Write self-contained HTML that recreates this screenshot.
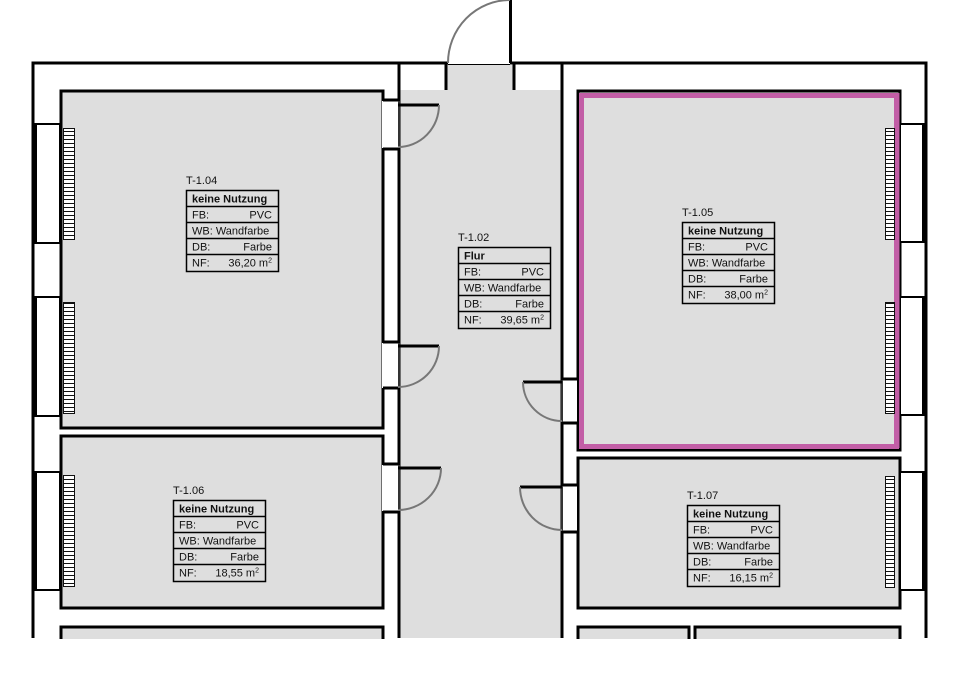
<!DOCTYPE html>
<html><head><meta charset="utf-8"><style>
html,body{margin:0;padding:0;background:#fff}
svg{display:block}
text{font-family:"Liberation Sans",sans-serif;font-size:11px;fill:#111}
.b{font-weight:bold}
</style></head><body>
<svg width="960" height="679" viewBox="0 0 960 679" xmlns="http://www.w3.org/2000/svg">
<defs>
<pattern id="rad" width="11" height="4" patternUnits="userSpaceOnUse"><rect width="11" height="4" fill="#fff"/><line x1="0" y1="3.5" x2="11" y2="3.5" stroke="#111" stroke-width="1"/></pattern>
</defs>
<!-- outer walls -->
<g stroke="#000" stroke-width="3" fill="none">
<polyline points="33,638 33,63 448,63"/>
<polyline points="510,63 926,63 926,638"/>
</g>
<line x1="448" y1="64.5" x2="510" y2="64.5" stroke="#000" stroke-width="1"/>
<!-- corridor -->
<rect x="399" y="90" width="163" height="548" fill="#dedede"/>
<rect x="447" y="65" width="66" height="25" fill="#dedede"/>
<g stroke="#000" stroke-width="3">
<line x1="399" y1="63" x2="399" y2="638"/>
<line x1="562" y1="63" x2="562" y2="638"/>
<line x1="446" y1="63" x2="446" y2="90"/>
<line x1="514" y1="63" x2="514" y2="90"/>
<line x1="510.5" y1="0" x2="510.5" y2="63"/>
</g>
<path d="M448,63 A62,63 0 0 1 510,0" stroke="#777" stroke-width="2" fill="none"/>
<!-- rooms -->
<g stroke="#000" stroke-width="3" fill="#dedede">
<rect x="61" y="91" width="322" height="337"/>
<rect x="61" y="436" width="322" height="172"/>
<rect x="61" y="627" width="322" height="20"/>
<rect x="578" y="91" width="322" height="359"/>
<rect x="578" y="458" width="322" height="150"/>
<rect x="578" y="627" width="111" height="20"/>
<rect x="695" y="627" width="205" height="20"/>
</g>
<rect x="581.5" y="95.5" width="315" height="351" fill="none" stroke="#c25ea6" stroke-width="5"/>
<rect x="0" y="639" width="960" height="40" fill="#fff"/>
<!-- door openings left wall -->
<g fill="#fff"><rect x="382" y="101" width="16" height="47"/><rect x="382" y="343" width="16" height="45"/><rect x="382" y="465" width="16" height="46"/>
<rect x="563" y="380" width="14" height="42"/><rect x="563" y="486" width="14" height="45"/></g>
<g stroke="#000" stroke-width="3" fill="none">
<polyline points="383,100 398,100"/><polyline points="383,149 398,149"/>
<polyline points="383,342 398,342"/><polyline points="383,388 398,388"/>
<polyline points="383,464 398,464"/><polyline points="383,512 398,512"/>
<polyline points="563,379 577,379"/><polyline points="563,423 577,423"/>
<polyline points="563,485 577,485"/><polyline points="563,532 577,532"/>
</g>
<g stroke="#666" stroke-width="1"><line x1="399" y1="101" x2="399" y2="148"/><line x1="399" y1="343" x2="399" y2="388"/><line x1="399" y1="465" x2="399" y2="511"/><line x1="562" y1="380" x2="562" y2="422"/><line x1="562" y1="486" x2="562" y2="531"/></g>
<!-- door leaves -->
<g stroke="#000" stroke-width="3"><line x1="398" y1="105" x2="439" y2="105"/><line x1="398" y1="346" x2="439" y2="346"/><line x1="398" y1="468" x2="441" y2="468"/><line x1="523" y1="382" x2="562" y2="382"/><line x1="520" y1="487" x2="562" y2="487"/></g>
<g stroke="#777" stroke-width="2" fill="none">
<path d="M439,105 A41,42 0 0 1 398,147"/>
<path d="M439,346 A41,41 0 0 1 398,387"/>
<path d="M441,468 A43,42 0 0 1 398,510"/>
<path d="M523,382 A39,39 0 0 0 562,421"/>
<path d="M520,487 A42,43 0 0 0 562,530"/>
</g>
<!-- windows left -->
<g fill="#fff" stroke="#000" stroke-width="2">
<rect x="35" y="124" width="25" height="119"/><rect x="35" y="297" width="25" height="119"/><rect x="35" y="472" width="25" height="118"/>
<rect x="900" y="124" width="24" height="118"/><rect x="900" y="297" width="24" height="118"/><rect x="900" y="472" width="24" height="118"/>
</g>
<g fill="#000"><rect x="32" y="124" width="5" height="119"/><rect x="32" y="297" width="5" height="119"/><rect x="32" y="472" width="5" height="118"/>
<rect x="922" y="124" width="5" height="118"/><rect x="922" y="297" width="5" height="118"/><rect x="922" y="472" width="5" height="118"/></g>
<g stroke="#c25ea6" stroke-width="5"><line x1="897" y1="93" x2="897" y2="448"/></g>
<!-- radiators -->
<g fill="url(#rad)" stroke="#111" stroke-width="1">
<rect x="63.5" y="128.5" width="11" height="111"/><rect x="63.5" y="302.5" width="11" height="111"/><rect x="63.5" y="475.5" width="11" height="111"/>
<rect x="885.5" y="128.5" width="9" height="111"/><rect x="885.5" y="302.5" width="9" height="111"/><rect x="885.5" y="476.5" width="9" height="111"/>
</g>
<!-- tables -->
<g transform="translate(186,190)">
<text x="0" y="-6">T-1.04</text>
<rect x="0.5" y="0.5" width="92" height="81" fill="#dedede" stroke="#000" stroke-width="1.5"/>
<g stroke="#000" stroke-width="1.5"><line x1="0" y1="16.5" x2="92" y2="16.5"/><line x1="0" y1="32.5" x2="92" y2="32.5"/><line x1="0" y1="48.5" x2="92" y2="48.5"/><line x1="0" y1="64.5" x2="92" y2="64.5"/></g>
<text x="6" y="12.5" class="b">keine Nutzung</text>
<text x="6" y="28.5">FB:</text><text x="86" y="28.5" text-anchor="end">PVC</text>
<text x="6" y="44.5">WB: Wandfarbe</text>
<text x="6" y="60.5">DB:</text><text x="86" y="60.5" text-anchor="end">Farbe</text>
<text x="6" y="76.5">NF:</text><text x="86" y="76.5" text-anchor="end">36,20 m<tspan dy="-4" font-size="7">2</tspan></text>
</g>
<g transform="translate(458,247)">
<text x="0" y="-6">T-1.02</text>
<rect x="0.5" y="0.5" width="92" height="81" fill="#dedede" stroke="#000" stroke-width="1.5"/>
<g stroke="#000" stroke-width="1.5"><line x1="0" y1="16.5" x2="92" y2="16.5"/><line x1="0" y1="32.5" x2="92" y2="32.5"/><line x1="0" y1="48.5" x2="92" y2="48.5"/><line x1="0" y1="64.5" x2="92" y2="64.5"/></g>
<text x="6" y="12.5" class="b">Flur</text>
<text x="6" y="28.5">FB:</text><text x="86" y="28.5" text-anchor="end">PVC</text>
<text x="6" y="44.5">WB: Wandfarbe</text>
<text x="6" y="60.5">DB:</text><text x="86" y="60.5" text-anchor="end">Farbe</text>
<text x="6" y="76.5">NF:</text><text x="86" y="76.5" text-anchor="end">39,65 m<tspan dy="-4" font-size="7">2</tspan></text>
</g>
<g transform="translate(682,222)">
<text x="0" y="-6">T-1.05</text>
<rect x="0.5" y="0.5" width="92" height="81" fill="#dedede" stroke="#000" stroke-width="1.5"/>
<g stroke="#000" stroke-width="1.5"><line x1="0" y1="16.5" x2="92" y2="16.5"/><line x1="0" y1="32.5" x2="92" y2="32.5"/><line x1="0" y1="48.5" x2="92" y2="48.5"/><line x1="0" y1="64.5" x2="92" y2="64.5"/></g>
<text x="6" y="12.5" class="b">keine Nutzung</text>
<text x="6" y="28.5">FB:</text><text x="86" y="28.5" text-anchor="end">PVC</text>
<text x="6" y="44.5">WB: Wandfarbe</text>
<text x="6" y="60.5">DB:</text><text x="86" y="60.5" text-anchor="end">Farbe</text>
<text x="6" y="76.5">NF:</text><text x="86" y="76.5" text-anchor="end">38,00 m<tspan dy="-4" font-size="7">2</tspan></text>
</g>
<g transform="translate(173,500)">
<text x="0" y="-6">T-1.06</text>
<rect x="0.5" y="0.5" width="92" height="81" fill="#dedede" stroke="#000" stroke-width="1.5"/>
<g stroke="#000" stroke-width="1.5"><line x1="0" y1="16.5" x2="92" y2="16.5"/><line x1="0" y1="32.5" x2="92" y2="32.5"/><line x1="0" y1="48.5" x2="92" y2="48.5"/><line x1="0" y1="64.5" x2="92" y2="64.5"/></g>
<text x="6" y="12.5" class="b">keine Nutzung</text>
<text x="6" y="28.5">FB:</text><text x="86" y="28.5" text-anchor="end">PVC</text>
<text x="6" y="44.5">WB: Wandfarbe</text>
<text x="6" y="60.5">DB:</text><text x="86" y="60.5" text-anchor="end">Farbe</text>
<text x="6" y="76.5">NF:</text><text x="86" y="76.5" text-anchor="end">18,55 m<tspan dy="-4" font-size="7">2</tspan></text>
</g>
<g transform="translate(687,505)">
<text x="0" y="-6">T-1.07</text>
<rect x="0.5" y="0.5" width="92" height="81" fill="#dedede" stroke="#000" stroke-width="1.5"/>
<g stroke="#000" stroke-width="1.5"><line x1="0" y1="16.5" x2="92" y2="16.5"/><line x1="0" y1="32.5" x2="92" y2="32.5"/><line x1="0" y1="48.5" x2="92" y2="48.5"/><line x1="0" y1="64.5" x2="92" y2="64.5"/></g>
<text x="6" y="12.5" class="b">keine Nutzung</text>
<text x="6" y="28.5">FB:</text><text x="86" y="28.5" text-anchor="end">PVC</text>
<text x="6" y="44.5">WB: Wandfarbe</text>
<text x="6" y="60.5">DB:</text><text x="86" y="60.5" text-anchor="end">Farbe</text>
<text x="6" y="76.5">NF:</text><text x="86" y="76.5" text-anchor="end">16,15 m<tspan dy="-4" font-size="7">2</tspan></text>
</g>
</svg>
</body></html>
